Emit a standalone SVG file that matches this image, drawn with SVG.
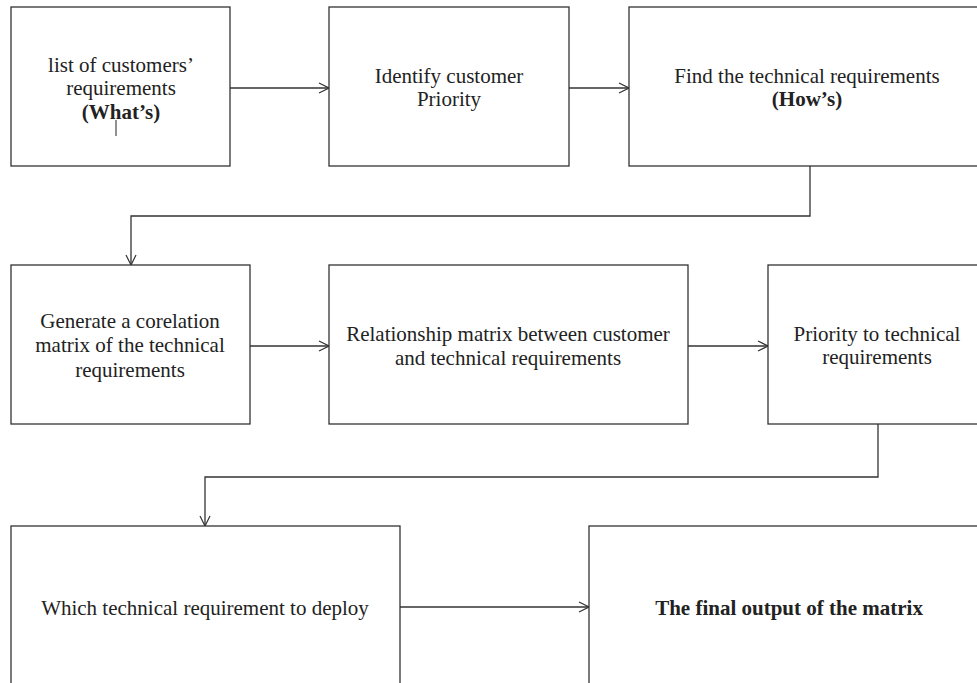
<svg xmlns="http://www.w3.org/2000/svg" width="977" height="683" viewBox="0 0 977 683">
<style>
.box{fill:#fff;stroke:#333;stroke-width:1.3}
.t{font-family:"Liberation Serif","Times New Roman",serif;font-size:21px;fill:#222;text-anchor:middle}
.b{font-weight:bold}
.c{fill:none;stroke:#333;stroke-width:1.3}
</style>
<defs>
<marker id="ah" markerUnits="userSpaceOnUse" markerWidth="12" markerHeight="12" refX="11" refY="6" orient="auto">
<path d="M1,1 L11,6 L1,11" fill="none" stroke="#333" stroke-width="1.2"/>
</marker>
</defs>
<rect width="977" height="683" fill="#fff"/>
<g id="connectors">
<line class="c" x1="230" y1="88" x2="329" y2="88" marker-end="url(#ah)"/>
<line class="c" x1="569" y1="88" x2="629" y2="88" marker-end="url(#ah)"/>
<polyline class="c" points="810,166 810,216 131,216 131,265" marker-end="url(#ah)"/>
<line class="c" x1="250" y1="346" x2="329" y2="346" marker-end="url(#ah)"/>
<line class="c" x1="688" y1="346" x2="768" y2="346" marker-end="url(#ah)"/>
<polyline class="c" points="878,424 878,477 205,477 205,526" marker-end="url(#ah)"/>
<line class="c" x1="400" y1="607" x2="589" y2="607" marker-end="url(#ah)"/>
</g>
<g id="n1">
<rect class="box" x="11" y="7" width="219" height="159"/>
<text class="t" x="121" y="72">list of customers’</text>
<text class="t" x="121" y="95">requirements</text>
<text class="t b" x="121" y="119">(What’s)</text>
<line x1="116" y1="120" x2="116" y2="136" stroke="#222" stroke-width="1"/>
</g>
<g id="n2">
<rect class="box" x="329" y="7" width="240" height="159"/>
<text class="t" x="449" y="83">Identify customer</text>
<text class="t" x="449" y="106">Priority</text>
</g>
<g id="n3">
<rect class="box" x="629" y="7" width="360" height="159"/>
<text class="t" x="807" y="83">Find the technical requirements</text>
<text class="t b" x="807" y="106">(How’s)</text>
</g>
<g id="n4">
<rect class="box" x="11" y="265" width="239" height="159"/>
<text class="t" x="130" y="328">Generate a corelation</text>
<text class="t" x="130" y="352">matrix of the technical</text>
<text class="t" x="130" y="377">requirements</text>
</g>
<g id="n5">
<rect class="box" x="329" y="265" width="359" height="159"/>
<text class="t" x="508" y="341">Relationship matrix between customer</text>
<text class="t" x="508" y="365">and technical requirements</text>
</g>
<g id="n6">
<rect class="box" x="768" y="265" width="220" height="159"/>
<text class="t" x="877" y="341">Priority to technical</text>
<text class="t" x="877" y="364">requirements</text>
</g>
<g id="n7">
<rect class="box" x="11" y="526" width="389" height="170"/>
<text class="t" x="205" y="615">Which technical requirement to deploy</text>
</g>
<g id="n8">
<rect class="box" x="589" y="526" width="400" height="170"/>
<text class="t b" x="789" y="615">The final output of the matrix</text>
</g>
</svg>
